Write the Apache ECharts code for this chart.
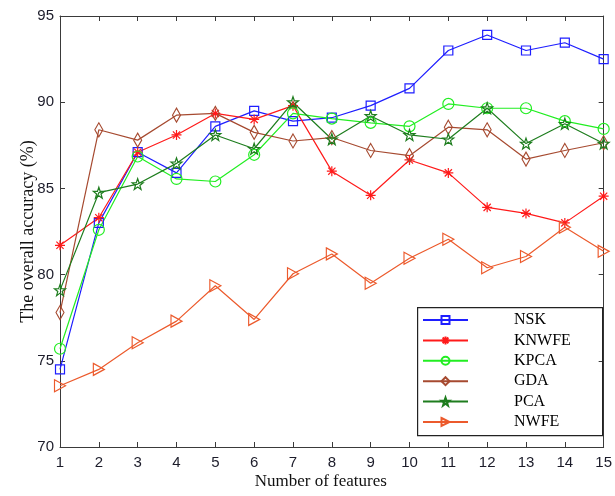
<!DOCTYPE html>
<html>
<head>
<meta charset="utf-8">
<script src="https://cdn.jsdelivr.net/npm/echarts@6/dist/echarts.min.js"></script>
<style>
  html, body { margin: 0; padding: 0; background: #fff; }
  #chart { width: 615px; height: 496px; }
</style>
</head>
<body>
<div id="chart"></div>
<script>
// Number of features on the x axis
const features = [1, 2, 3, 4, 5, 6, 7, 8, 9, 10, 11, 12, 13, 14, 15];

// Overall accuracy (%) per method
const nsk   = [74.5, 83.0, 87.1, 85.9, 88.6, 89.5, 88.9, 89.1, 89.8, 90.8, 93.0, 93.9, 93.0, 93.45, 92.5];
const knwfe = [81.7, 83.3, 87.1, 88.1, 89.35, 89.0, 89.8, 86.0, 84.6, 86.65, 85.9, 83.9, 83.55, 83.0, 84.55];
const kpca  = [75.7, 82.6, 86.85, 85.55, 85.4, 86.95, 89.35, 89.05, 88.8, 88.6, 89.9, 89.65, 89.65, 88.9, 88.45];
const gda   = [77.8, 88.4, 87.8, 89.25, 89.35, 88.25, 87.75, 87.95, 87.2, 86.9, 88.55, 88.4, 86.7, 87.2, 87.65];
const pca   = [79.1, 84.75, 85.25, 86.45, 88.1, 87.3, 90.0, 87.85, 89.2, 88.1, 87.85, 89.65, 87.6, 88.75, 87.6];
const nwfe  = [73.55, 74.5, 76.05, 77.3, 79.35, 77.4, 80.05, 81.2, 79.5, 80.95, 82.05, 80.4, 81.05, 82.75, 81.35];

const yTicks = [70, 75, 80, 85, 90, 95];

// Outline-only marker shapes
const asteriskPath = 'path://M0,-5L0,5M-5,0L5,0M-3.6,-3.6L3.6,3.6M-3.6,3.6L3.6,-3.6';
const starPath = 'path://M0,-5L1.18,-1.62L4.76,-1.55L1.9,0.62L2.94,4.05L0,2L-2.94,4.05L-1.9,0.62L-4.76,-1.55L-1.18,-1.62Z';
const triRightPath = 'path://M0,0L10,5L0,10Z';

function pairs(vals) {
  return features.map((x, i) => [x, vals[i]]);
}

function makeSeries(name, vals, color, symbol, size) {
  return {
    name: name,
    type: 'line',
    data: pairs(vals),
    symbol: symbol,
    symbolSize: size,
    showAllSymbol: true,
    lineStyle: { color: color, width: 1.2 },
    itemStyle: { color: 'rgba(0,0,0,0)', borderColor: color, borderWidth: 1.2 },
    emphasis: { disabled: true },
    animation: false
  };
}

const axisColor = '#3a3a3a';
const tickFont = { fontFamily: 'Liberation Sans', fontSize: 15, color: '#1c1c2a' };

const chart = echarts.init(document.getElementById('chart'), null, { renderer: 'canvas' });
chart.setOption({
  backgroundColor: '#fff',
  animation: false,
  grid: { left: 60, right: 4, top: 16, bottom: 49 },
  xAxis: [
    {
      type: 'value', min: 1, max: 15, interval: 1,
      name: 'Number of features', nameLocation: 'middle', nameGap: 26, nameMoveOverlap: false,
      nameTextStyle: { fontFamily: 'Liberation Serif', fontSize: 17, color: '#111', padding: [0, 22, 0, 0] },
      axisLine: { lineStyle: { color: axisColor, width: 1 } },
      axisTick: { inside: true, length: 5, lineStyle: { color: axisColor } },
      axisLabel: Object.assign({ margin: 8 }, tickFont),
      splitLine: { show: false }
    },
    {
      type: 'value', min: 1, max: 15, interval: 1, position: 'top',
      axisLine: { show: true, lineStyle: { color: axisColor, width: 1 } },
      axisTick: { inside: true, length: 5, lineStyle: { color: axisColor } },
      axisLabel: { show: false },
      splitLine: { show: false }
    }
  ],
  yAxis: [
    {
      type: 'value', min: yTicks[0], max: yTicks[yTicks.length - 1], interval: 5,
      name: 'The overall accuracy (%)', nameLocation: 'middle', nameGap: 23, nameMoveOverlap: false,
      nameTextStyle: { fontFamily: 'Liberation Serif', fontSize: 18, color: '#111' },
      axisLine: { show: true, lineStyle: { color: axisColor, width: 1 } },
      axisTick: { show: true, inside: true, length: 5, lineStyle: { color: axisColor } },
      axisLabel: Object.assign({ margin: 6 }, tickFont),
      splitLine: { show: false }
    },
    {
      type: 'value', min: yTicks[0], max: yTicks[yTicks.length - 1], interval: 5, position: 'right',
      axisLine: { show: true, lineStyle: { color: axisColor, width: 1 } },
      axisTick: { show: true, inside: true, length: 5, lineStyle: { color: axisColor } },
      axisLabel: { show: false },
      splitLine: { show: false }
    }
  ],
  legend: {
    orient: 'vertical',
    left: 422, top: 312,
    itemWidth: 45, itemHeight: 10, itemGap: 4.4,
    padding: 0,
    selectedMode: false,
    textStyle: { fontFamily: 'Liberation Serif', fontSize: 16, color: '#000', lineHeight: 12, padding: [0, 0, 0, 41] },
    data: ['NSK', 'KNWFE', 'KPCA', 'GDA', 'PCA', 'NWFE']
  },
  graphic: [
    {
      type: 'rect', left: 417, top: 307, z: 10, silent: true,
      shape: { width: 185, height: 128 },
      style: { fill: 'rgba(0,0,0,0)', stroke: '#222', lineWidth: 1.2 }
    }
  ],
  series: [
    makeSeries('NSK', nsk, '#1e1eff', 'rect', 9),
    makeSeries('KNWFE', knwfe, '#ff1a1a', asteriskPath, 10),
    makeSeries('KPCA', kpca, '#22ee22', 'circle', 11),
    makeSeries('GDA', gda, '#a64a30', 'diamond', [8, 14]),
    makeSeries('PCA', pca, '#1e7d1e', starPath, 11),
    makeSeries('NWFE', nwfe, '#ec5a2c', triRightPath, [11, 12])
  ]
});
</script>
</body>
</html>
